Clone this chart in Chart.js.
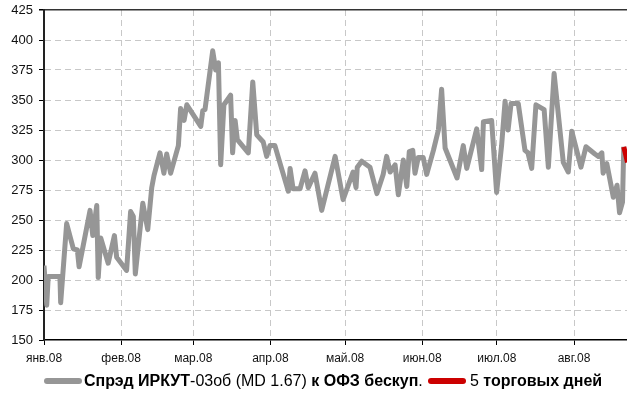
<!DOCTYPE html>
<html>
<head>
<meta charset="utf-8">
<script src="https://cdn.jsdelivr.net/npm/chart.js@4"></script>
<style>
  body { margin: 0; background: #fff; }
  #wrap { position: relative; width: 627px; height: 394px; }
  #legend { position: absolute; left: 0; top: 371px; width: 627px; height: 20px;
    font: bold 16px 'Liberation Sans', Arial, sans-serif; color: #000; white-space: nowrap; }
  .sw { position: absolute; top: 7px; height: 6px; border-radius: 3px; }
  .lt { position: absolute; top: 0; line-height: 20px; }
  .n { font-weight: normal; }
</style>
</head>
<body>
<div id="wrap">
  <canvas id="grafico" width="627" height="394"></canvas>
  <div id="legend">
    <span class="sw" style="left:44px;width:38px;background:#969696"></span>
    <span class="lt" style="left:84px">Спрэд ИРКУТ<span class="n">-03об (MD 1.67)</span> к ОФЗ бескуп<span class="n">.</span></span>
    <span class="sw" style="left:428px;width:38px;background:#cc0000"></span>
    <span class="lt" style="left:470px"><span class="n">5</span> торговых дней</span>
  </div>
</div>
<script>
// дни от 1 января 2008
const days = [0, 1.1, 1.7, 6.4, 6.7, 9.1, 11.8, 13.4, 14.1, 18.5,
  19.6, 21.2, 21.8, 22.8, 25.8, 28.3, 29.2, 33.2, 34.8, 35.9,
  36.7, 39.7, 41.7, 43.3, 44.2, 46.6, 48.2, 49.3, 50.9, 54.0,
  54.9, 56.3, 57.4, 63.0, 63.8, 64.7, 67.8, 69.0, 70.1, 71.0,
  72.3, 75.0, 75.8, 76.8, 77.7, 82.1, 83.9, 85.5, 88.1, 89.5,
  90.8, 92.8, 94.9, 98.2, 98.9, 100.1, 102.9, 104.9, 106.2, 108.9,
  111.6, 117.0, 120.2, 124.2, 125.4, 125.9, 127.7, 131.0, 133.8, 136.3,
  137.7, 139.1, 141.1, 142.4, 144.4, 145.8, 146.8, 148.2, 149.1, 150.4,
  152.4, 153.8, 156.5, 158.5, 159.8, 161.2, 166.0, 168.5, 169.9, 173.9,
  175.9, 176.6, 179.9, 181.9, 183.9, 185.3, 186.5, 187.7, 190.6, 193.3,
  194.5, 196.0, 197.7, 201.0, 202.7, 205.0, 208.7, 210.7, 212.1, 215.8,
  217.8, 221.4, 222.8, 224.2, 224.7, 226.2, 228.8, 230.3, 231.3, 232.5,
  233.0];
const spread = [212, 179, 203, 203, 181, 247, 226, 225, 211, 258,
  237, 262, 202, 235, 214, 237, 219, 208, 257, 253,
  205, 264, 242, 277, 287, 306, 289, 305, 289, 312,
  343, 333, 346, 328, 341, 342, 391, 375, 381, 296,
  346, 354, 306, 333, 317, 306, 365, 321, 315, 303,
  312, 312, 297, 274, 293, 276, 276, 291, 277, 289,
  258, 303, 267, 290, 277, 294, 299, 294, 272, 288,
  303, 290, 296, 271, 300, 278, 307, 308, 289, 302,
  302, 288, 308, 325, 359, 310, 285, 312, 293, 326,
  292, 332, 333, 273, 312, 349, 325, 347, 347, 308,
  306, 293, 346, 342, 294, 372, 298, 290, 324, 294,
  311, 305, 303, 306, 289, 297, 269, 279, 256, 265,
  311];

// последние 5 торговых дней
const lastDays = [233.0, 233.7, 234.5];
const lastSpread = [311, 305, 298];

const monthTicks = [0, 31, 60, 91, 121, 152, 182, 213];
const monthLabels = ['янв.08', 'фев.08', 'мар.08', 'апр.08', 'май.08', 'июн.08', 'июл.08', 'авг.08'];

const fontTicks = { family: "'Liberation Sans', Arial, sans-serif", size: 13 };

const ctx = document.getElementById('grafico').getContext('2d');
const grafico = new Chart(ctx, {
  type: 'line',
  data: {
    datasets: [{
      label: 'Спрэд ИРКУТ-03об (MD 1.67) к ОФЗ бескуп.',
      data: days.map((d, i) => ({ x: d, y: spread[i] })),
      borderColor: '#969696',
      borderWidth: 5,
      borderJoinStyle: 'round',
      pointRadius: 0,
      clip: 0,
      order: 1
    }, {
      label: '5 торговых дней',
      data: lastDays.map((d, i) => ({ x: d, y: lastSpread[i] })),
      borderColor: '#cc0000',
      borderWidth: 5,
      borderJoinStyle: 'round',
      pointRadius: 0,
      clip: 0,
      order: 0
    }]
  },
  options: {
    responsive: false,
    animation: false,
    layout: { padding: { top: 0, right: 0, bottom: 26, left: 0 } },
    plugins: { legend: { display: false }, tooltip: { enabled: false } },
    scales: {
      x: {
        type: 'linear',
        min: 0,
        max: 234.3,
        afterBuildTicks: s => { s.ticks = monthTicks.map(v => ({ value: v })); },
        afterFit: s => { s.height = 28; },
        ticks: {
          callback: (v, i) => monthLabels[i],
          font: { family: fontTicks.family, size: 12 },
          color: '#111',
          padding: 6,
          maxRotation: 0,
          autoSkip: false
        },
        grid: {
          color: c => c.index === 0 ? 'rgba(0,0,0,0)' : '#c8c8c8',
          lineWidth: 1,
          tickColor: '#000',
          tickLength: 5,
          tickBorderDash: []
        },
        border: { color: '#000', width: 1.5, dash: [6, 4] }
      },
      y: {
        min: 150,
        max: 425,
        afterFit: s => { s.width = 44; s.paddingTop = 10; s.paddingBottom = 0; },
        ticks: { stepSize: 25, font: fontTicks, color: '#111', padding: 6 },
        grid: {
          color: c => c.tick && c.tick.value === 425 ? '#333' : (c.tick && c.tick.value === 150 ? 'rgba(0,0,0,0)' : '#c8c8c8'),
          lineWidth: c => c.tick && c.tick.value === 425 ? 1.5 : 1,
          tickColor: '#000',
          tickLength: 5,
          tickBorderDash: []
        },
        border: {
          color: '#222',
          width: 2,
          dash: c => c.tick && c.tick.value === 425 ? [] : [6, 4]
        }
      }
    }
  }
});
</script>
</body>
</html>
